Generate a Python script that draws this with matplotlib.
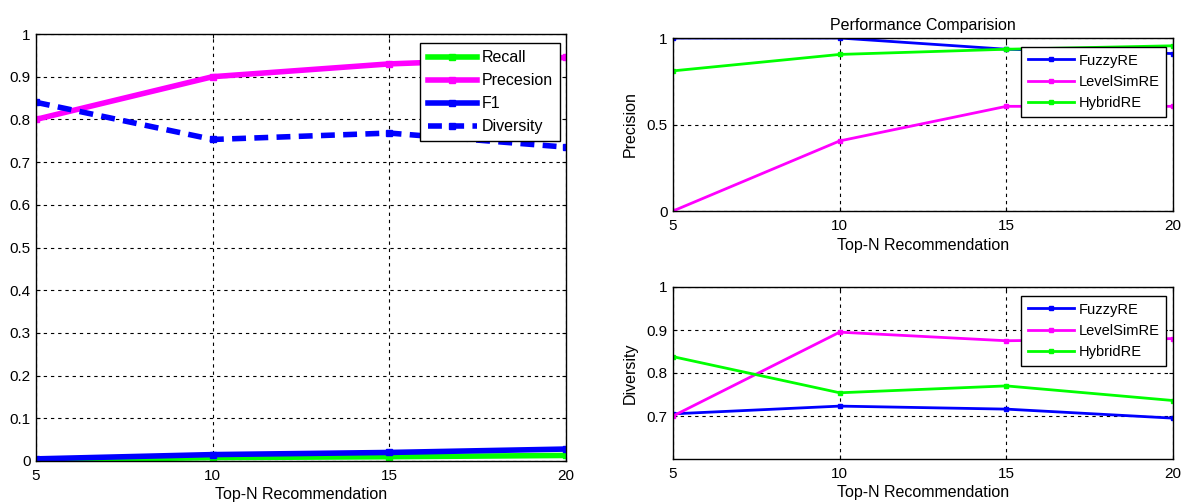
import numpy as np
import matplotlib
matplotlib.use("Agg")
import matplotlib.pyplot as plt

plt.rcParams["font.family"] = ["Liberation Sans", "DejaVu Sans"]
plt.rcParams["xtick.direction"] = "in"
plt.rcParams["ytick.direction"] = "in"

top_n = [5, 10, 15, 20]

# left panel: metrics of the hybrid recommender
recall = [0.002, 0.008, 0.010, 0.013]
precesion = [0.800, 0.900, 0.930, 0.945]
f1 = [0.005, 0.015, 0.020, 0.028]
diversity = [0.840, 0.753, 0.768, 0.735]

# right panels: comparison of methods
methods = ["FuzzyRE", "LevelSimRE", "HybridRE"]
prec_fuzzy = [1.00, 1.00, 0.935, 0.910]
prec_level = [0.00, 0.405, 0.605, 0.605]
prec_hybrid = [0.810, 0.905, 0.935, 0.955]
div_fuzzy = [0.705, 0.723, 0.716, 0.695]
div_level = [0.700, 0.895, 0.875, 0.880]
div_hybrid = [0.838, 0.754, 0.770, 0.736]

GREEN, MAGENTA, BLUE = "#00ff00", "#ff00ff", "#0000ff"

fig = plt.figure(figsize=(11.87, 5.04), dpi=100)
W, H = 1187, 504


def px_axes(x0, y0, x1, y1):
    return fig.add_axes([x0 / W, 1 - y1 / H, (x1 - x0) / W, (y1 - y0) / H])


def style(ax):
    ax.grid(True, color="black", linestyle=(0, (3, 3.5)), linewidth=0.8)
    ax.tick_params(labelsize=11, length=3, top=True, right=True)
    ax.tick_params(axis="x", pad=6)
    ax.tick_params(axis="y", pad=4)
    for s in ax.spines.values():
        s.set_linewidth(1.0)
    ax.set_xlim(5, 20)
    ax.set_xticks(top_n)


def add_legend(ax, anchor, fs, hl):
    leg = ax.legend(loc="upper right", bbox_to_anchor=anchor, borderaxespad=0,
                    fontsize=fs, fancybox=False, edgecolor="black", framealpha=1,
                    handlelength=hl, borderpad=0.45, labelspacing=0.5,
                    handletextpad=0.3)
    leg.get_frame().set_linewidth(1.0)
    return leg


# --- left panel ---
ax = px_axes(36, 34, 566, 461)
ax.plot(top_n, recall, color=GREEN, lw=4, marker="s", ms=5, label="Recall")
ax.plot(top_n, precesion, color=MAGENTA, lw=4, marker="s", ms=5, label="Precesion")
ax.plot(top_n, f1, color=BLUE, lw=4, marker="s", ms=5, label="F1")
ax.plot(top_n, diversity, color=BLUE, lw=4, ls=(0, (2.5, 1.5)), marker="s", ms=5,
        label="Diversity")
style(ax)
ax.set_ylim(0, 1)
ax.set_yticks(np.arange(0, 1.01, 0.1))
ax.set_yticklabels(["0"] + [f"{v:.1f}" for v in np.arange(0.1, 1.0, 0.1)] + ["1"])
ax.set_xlabel("Top-N Recommendation", fontsize=11.5, labelpad=3)
add_legend(ax, (0.989, 0.979), 11.5, 3.1)

# --- right top: precision ---
ax2 = px_axes(673, 38, 1173, 211)
for vals, c, name in zip([prec_fuzzy, prec_level, prec_hybrid], [BLUE, MAGENTA, GREEN], methods):
    ax2.plot(top_n, vals, color=c, lw=2, marker="s", ms=3, label=name)
style(ax2)
ax2.set_ylim(0, 1)
ax2.set_yticks([0, 0.5, 1])
ax2.set_yticklabels(["0", "0.5", "1"])
ax2.set_xlabel("Top-N Recommendation", fontsize=11.5, labelpad=3)
ax2.set_ylabel("Precision", fontsize=11.5, labelpad=6)
ax2.set_title("Performance Comparision", fontsize=11.5, pad=6)
add_legend(ax2, (0.986, 0.948), 10.5, 3.2)

# --- right bottom: diversity ---
ax3 = px_axes(673, 287, 1173, 459)
for vals, c, name in zip([div_fuzzy, div_level, div_hybrid], [BLUE, MAGENTA, GREEN], methods):
    ax3.plot(top_n, vals, color=c, lw=2, marker="s", ms=3, label=name)
style(ax3)
ax3.set_ylim(0.6, 1)
ax3.set_yticks([0.7, 0.8, 0.9, 1.0])
ax3.set_yticklabels(["0.7", "0.8", "0.9", "1"])
ax3.set_xlabel("Top-N Recommendation", fontsize=11.5, labelpad=3)
ax3.set_ylabel("Diversity", fontsize=11.5, labelpad=6)
add_legend(ax3, (0.986, 0.948), 10.5, 3.2)

fig.savefig("out.png", dpi=100)
